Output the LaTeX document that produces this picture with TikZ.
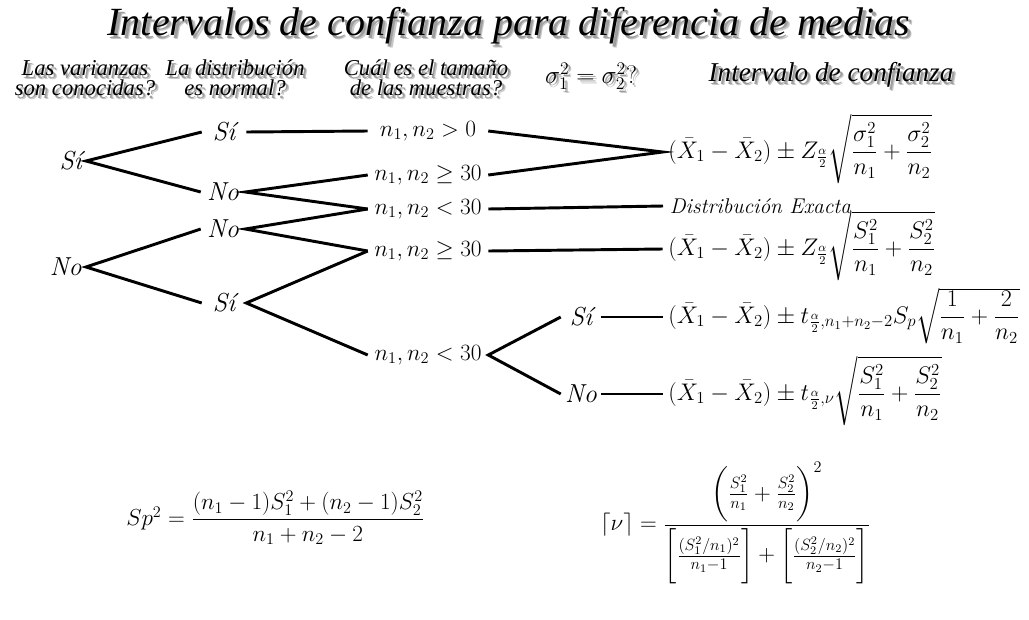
\RequirePackage{fix-cm}
\documentclass[tikz,border=0pt]{standalone}
\usepackage{amsmath}
\usepackage{fontspec}
\newfontfamily\hdr{Liberation Serif}
\newcommand\shd[1]{\makebox[0pt][l]{\hspace{2.8pt}\raisebox{-2.8pt}{\color{black!22}#1}}\makebox[0pt][l]{\hspace{1.9pt}\raisebox{-1.9pt}{\color{black!38}#1}}#1}
\tikzset{
  ttl/.style={font=\hdr\itshape\fontsize{30}{34}\selectfont, inner sep=0pt},
  hd/.style={font=\hdr\itshape\fontsize{17}{15}\selectfont, align=center, inner sep=0pt},
  lbl/.style={font=\fontsize{19.5}{24}\selectfont\itshape, inner sep=0pt},
  lvltwo/.style={lbl, minimum width=33pt},
  lvlfour/.style={lbl, minimum width=30pt},
  cond/.style={font=\fontsize{17.5}{20}\selectfont, inner sep=0pt, minimum width=90pt},
  frm/.style={font=\fontsize{18}{22}\selectfont, anchor=base west, inner sep=0pt},
  bigfrm/.style={font=\fontsize{17.4}{20}\selectfont, anchor=west, inner sep=0pt},
  br/.style={line width=2.2pt, line cap=butt},
}
\begin{document}
\begin{tikzpicture}[x=0.75pt, y=-0.75pt]
\path[fill=white, use as bounding box] (0,0) rectangle (1029,619);

% headers
\node[ttl] (title) at (509,28) {\shd{Intervalos de confianza para diferencia de medias}};
\node[hd] (h1) at (85,80) {\shd{Las varianzas}\\\shd{son conocidas?}};
\node[hd] (h2) at (235,80) {\shd{La distribución}\\\shd{es normal?}};
\node[hd] (h3) at (426,80) {\shd{Cuál es el tamaño}\\\shd{de las muestras?}};
\node[hd, font=\fontsize{19}{22}\selectfont] (h4) at (591,78) {\shd{$\sigma_1^2=\sigma_2^2$?}};
\node[hd, font=\hdr\itshape\fontsize{20.4}{22}\selectfont] (h5) at (831,77) {\shd{Intervalo de confianza}};

% tree
\node[lbl, anchor=east, inner xsep=3pt] (sR) at (86,161) {Sí};
\node[lbl, anchor=east, inner xsep=3pt] (nR) at (86,267) {No};
\node[lvltwo] (s1) at (224,132) {Sí};
\node[lvltwo] (n1) at (223,192) {No};
\node[lvltwo] (n2) at (223,229) {No};
\node[lvltwo] (s2) at (224,303) {Sí};
\node[cond] (c1) at (428,131) {$n_1,n_2>0$};
\node[cond] (c2) at (428,175) {$n_1,n_2\geq 30$};
\node[cond] (c3) at (428,209) {$n_1,n_2<30$};
\node[cond] (c4) at (428,251) {$n_1,n_2\geq 30$};
\node[cond] (c5) at (428,355) {$n_1,n_2<30$};
\node[lvlfour] (s3) at (581,317) {Sí};
\node[lvlfour] (n3) at (581,394) {No};

% results
\node[frm] (f1) at (668,158) {$(\bar X_1-\bar X_2)\pm Z_{\frac{\alpha}{2}}\sqrt{\dfrac{\sigma_1^2}{n_1}+\dfrac{\sigma_2^2}{n_2}}$};
\node[lbl, anchor=west, inner xsep=5pt, font=\fontsize{16}{20}\selectfont\itshape] (dx) at (663,206) {Distribución Exacta};
\node[frm] (f2) at (668,255) {$(\bar X_1-\bar X_2)\pm Z_{\frac{\alpha}{2}}\sqrt{\dfrac{S_1^2}{n_1}+\dfrac{S_2^2}{n_2}}$};
\node[frm] (f3) at (668,323) {$(\bar X_1-\bar X_2)\pm t_{\frac{\alpha}{2},n_1+n_2-2}S_p\sqrt{\dfrac{1}{n_1}+\dfrac{2}{n_2}}$};
\node[frm] (f4) at (668,400) {$(\bar X_1-\bar X_2)\pm t_{\frac{\alpha}{2},\nu}\sqrt{\dfrac{S_1^2}{n_1}+\dfrac{S_2^2}{n_2}}$};

\coordinate (e1) at ([xshift=-4pt,yshift=4.5pt]f1.base west);
\coordinate (e2) at ([xshift=-4pt,yshift=4.5pt]f2.base west);
\coordinate (e3) at ([xshift=-4pt,yshift=4.5pt]f3.base west);
\coordinate (e4) at ([xshift=-4pt,yshift=4.5pt]f4.base west);

\draw[br] (s1.west) -- (sR.east) -- (n1.west);
\draw[br] (n2.west) -- (nR.east) -- (s2.west);
\draw[br] (s1.east) -- (c1.west);
\draw[br] (c2.west) -- (n1.east) -- (c3.west);
\draw[br] (c3.west) -- (n2.east) -- (c4.west);
\draw[br] (c4.west) -- (s2.east) -- (c5.west);
\draw[br] (c1.east) -- (e1) -- (c2.east);
\draw[br] (c3.east) -- (dx.west);
\draw[br] (c4.east) -- (e2);
\draw[br] (s3.west) -- (c5.east) -- (n3.west);
\draw[br] (s3.east) -- (e3);
\draw[br] (n3.east) -- (e4);

% bottom formulas
\node[bigfrm] (sp) at (126,518) {$Sp^2=\dfrac{(n_1-1)S_1^2+(n_2-1)S_2^2}{n_1+n_2-2}$};
\node[bigfrm] (nu) at (600,523) {$\lceil\nu\rceil=\dfrac{\left(\vphantom{\dfrac{S}{n}}\frac{S_1^2}{n_1}+\frac{S_2^2}{n_2}\right)^2}{\left[\vphantom{\dfrac{S}{n}}\frac{(S_1^2/n_1)^2}{n_1-1}\right]+\left[\vphantom{\dfrac{S}{n}}\frac{(S_2^2/n_2)^2}{n_2-1}\right]}$};
\end{tikzpicture}
\end{document}
